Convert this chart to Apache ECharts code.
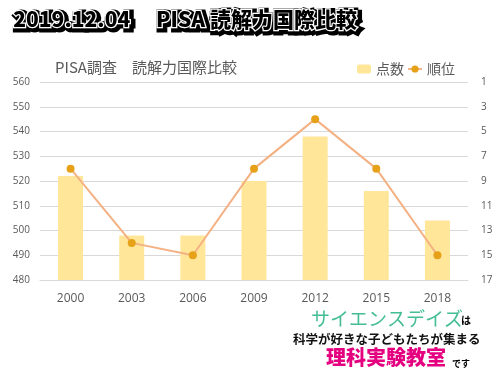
<!DOCTYPE html>
<html>
<head>
<meta charset="utf-8">
<script src="https://cdn.jsdelivr.net/npm/echarts@6/dist/echarts.min.js"></script>
<style>
  html, body { margin: 0; padding: 0; background: #fff; }
  #main { width: 500px; height: 375px; }
</style>
</head>
<body>
<div id="main"></div>
<script>
var years = ['2000', '2003', '2006', '2009', '2012', '2015', '2018']
var scores = [522, 498, 498, 520, 538, 516, 504]
var ranks = [8, 14, 15, 8, 4, 8, 15]
var scoreTicks = [480, 560, 10]
var rankTicks = [1, 17, 2]

var jp = '"Noto Sans CJK JP", "Noto Sans", sans-serif'
var gray = '#595959'
var heading = '2019.12.04　 PISA 読解力国際比較'

var option = {
    backgroundColor: '#fff',
    animation: false,
    title: [
        {
            text: 'PISA調査　読解力国際比較',
            left: 50,
            top: 55,
            textStyle: { color: gray, fontSize: 15, fontWeight: 'normal', fontFamily: jp }
        }
    ],
    legend: {
        right: 40,
        top: 57,
        itemWidth: 14,
        itemHeight: 9,
        itemGap: 3,
        textStyle: { color: gray, fontSize: 14, fontFamily: jp },
        data: ['点数', '順位']
    },
    grid: { left: 40, right: 32, top: 82, bottom: 95 },
    xAxis: {
        type: 'category',
        data: years,
        axisLine: { lineStyle: { color: '#D9D9D9' } },
        axisTick: { show: false },
        axisLabel: { color: gray, fontSize: 12, margin: 13, fontFamily: 'Open Sans, sans-serif' }
    },
    yAxis: [
        {
            type: 'value',
            min: scoreTicks[0], max: scoreTicks[1], interval: scoreTicks[2],
            axisLine: { show: false },
            axisTick: { show: false },
            axisLabel: { color: gray, fontSize: 10, margin: 10, fontFamily: 'Open Sans, sans-serif' },
            splitLine: { lineStyle: { color: '#D9D9D9' } }
        },
        {
            type: 'value',
            inverse: true,
            min: rankTicks[0], max: rankTicks[1], interval: rankTicks[2],
            axisLine: { show: false },
            axisTick: { show: false },
            axisLabel: { color: gray, fontSize: 10, margin: 13, fontFamily: 'Open Sans, sans-serif' },
            splitLine: { show: false }
        }
    ],
    series: [
        {
            name: '点数',
            type: 'bar',
            data: scores,
            barWidth: 25,
            itemStyle: { color: '#FFE699' }
        },
        {
            name: '順位',
            type: 'line',
            yAxisIndex: 1,
            data: ranks,
            symbol: 'circle',
            symbolSize: 8,
            lineStyle: { color: '#F4B183', width: 2 },
            itemStyle: { color: '#E6A118' }
        }
    ],
    graphic: [
        // big heading: black outline behind, black text with white edge in front
        {
            type: 'text', left: 12, top: 7,
            style: {
                text: heading,
                fill: '#000', stroke: '#000', lineWidth: 7,
                font: '900 21px ' + jp
            }
        },
        {
            type: 'text', left: 12, top: 7,
            style: {
                text: heading,
                fill: '#000', stroke: '#fff', lineWidth: 2.5,
                font: '900 21px ' + jp
            }
        },
        {
            type: 'text', left: 311, top: 309,
            style: { text: 'サイエンスデイズ', fill: '#45BE95', font: '400 19px ' + jp }
        },
        {
            type: 'text', left: 461, top: 315,
            style: { text: 'は', fill: '#000', font: '700 10px ' + jp }
        },
        {
            type: 'text', left: 293, top: 333,
            style: { text: '科学が好きな子どもたちが集まる', fill: '#111', font: '700 12.5px ' + jp }
        },
        {
            type: 'text', left: 326, top: 347,
            style: { text: '理科実験教室', fill: '#E4007F', font: '900 20px ' + jp }
        },
        {
            type: 'text', left: 452, top: 359,
            style: { text: 'です', fill: '#000', font: '700 9px ' + jp }
        }
    ]
};

var myChart = echarts.init(document.getElementById('main'));
myChart.setOption(option);
</script>
</body>
</html>
